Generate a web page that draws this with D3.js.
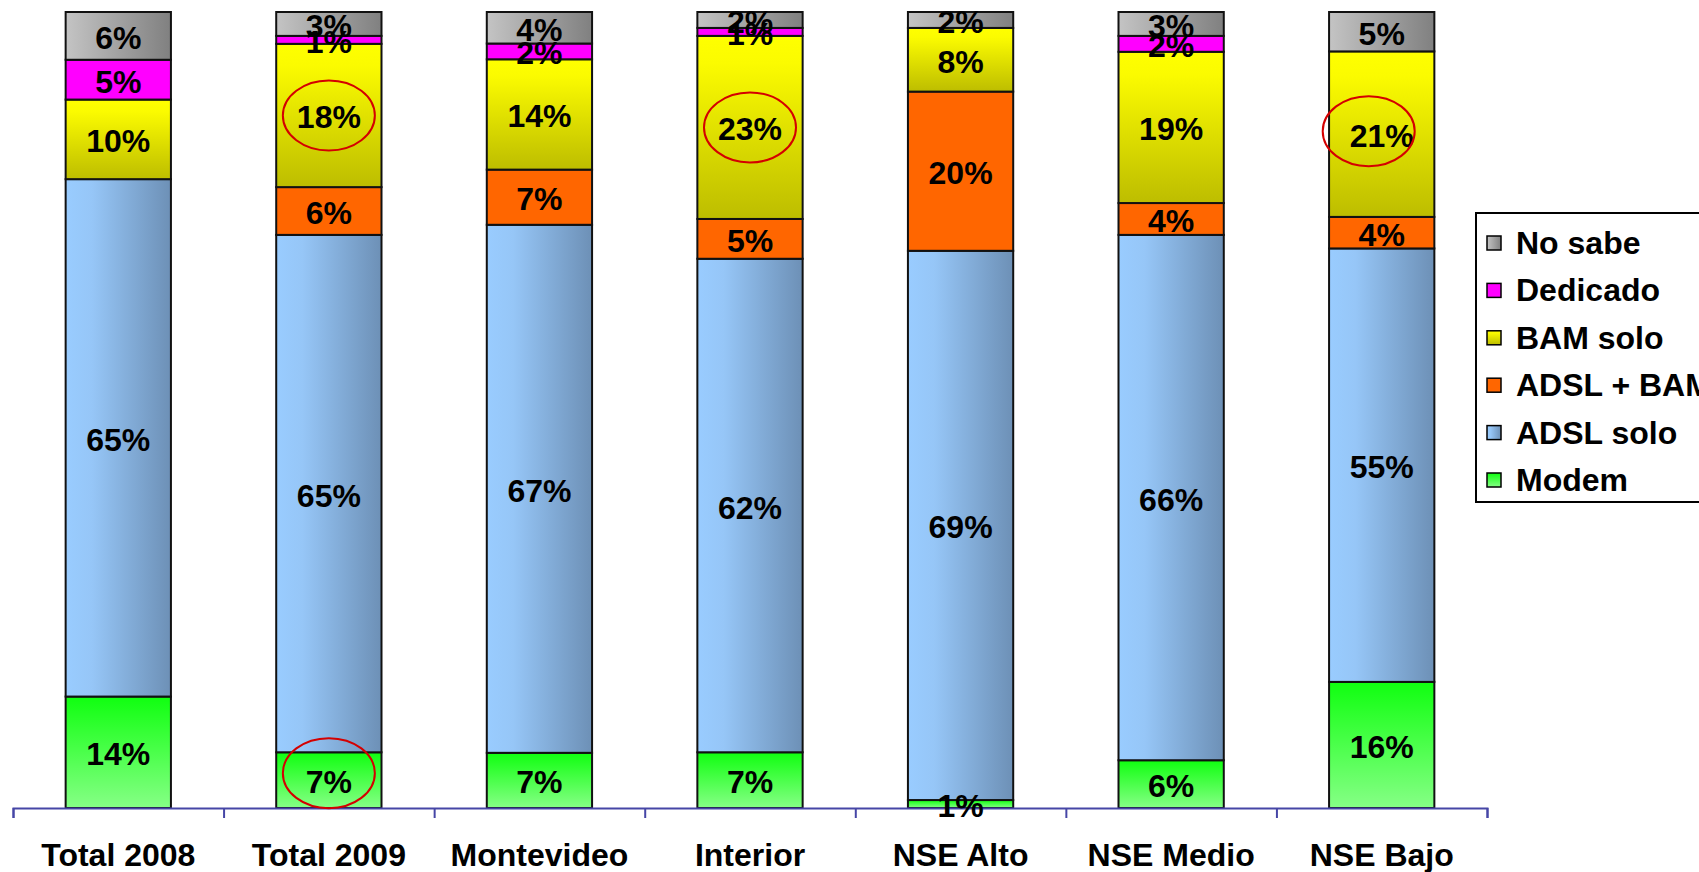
<!DOCTYPE html>
<html>
<head>
<meta charset="utf-8">
<script src="https://cdn.jsdelivr.net/npm/d3@7"></script>
<style>
  html, body { margin: 0; padding: 0; background: #fff; overflow: hidden; }
  svg { display: block; font-family: "Liberation Sans", Arial, sans-serif; }
</style>
</head>
<body>
<svg id="chart" width="1699" height="872"></svg>
<script>
// Categories along the x axis
const categories = ["Total 2008", "Total 2009", "Montevideo", "Interior", "NSE Alto", "NSE Medio", "NSE Bajo"];

// Series, stacked bottom to top (percent of households)
const modem     = [14, 7, 7, 7, 1, 6, 16];
const adslSolo  = [65, 65, 67, 62, 69, 66, 55];
const adslBam   = [0, 6, 7, 5, 20, 4, 4];
const bamSolo   = [10, 18, 14, 23, 8, 19, 21];
const dedicado  = [5, 1, 2, 1, 0, 2, 0];
const noSabe    = [6, 3, 4, 2, 2, 3, 5];

const seriesNames = ["Modem", "ADSL solo", "ADSL + BAM", "BAM solo", "Dedicado", "No sabe"];
const seriesValues = [modem, adslSolo, adslBam, bamSolo, dedicado, noSabe];

// Highlighted labels (circled in red)
const highlights = [
  { category: "Total 2009", series: "BAM solo" },
  { category: "Total 2009", series: "Modem" },
  { category: "Interior",   series: "BAM solo" },
  { category: "NSE Bajo",   series: "BAM solo" }
];

const svg = d3.select("#chart");

const margin = { left: 13, right: 212, top: 12, bottom: 64 };
const W = 1699, H = 872;
const plotLeft = margin.left, plotRight = W - margin.right;
const plotTop = margin.top, plotBottom = H - margin.bottom;

// Gradients for each series
const defs = svg.append("defs");
function linGrad(id, horizontal, stops) {
  const g = defs.append("linearGradient").attr("id", id)
    .attr("x1", 0).attr("y1", 0)
    .attr("x2", horizontal ? 1 : 0).attr("y2", horizontal ? 0 : 1);
  stops.forEach(([o, c]) => g.append("stop").attr("offset", o).attr("stop-color", c));
}
linGrad("g-modem", false, [[0, "#10ff10"], [1, "#86ff86"]]);
linGrad("g-adsl", true, [[0, "#99ccff"], [0.25, "#96c6f7"], [1, "#6d90b6"]]);
linGrad("g-bam", false, [[0, "#ffff00"], [0.15, "#fbfb00"], [1, "#bdbd00"]]);
linGrad("g-nosabe", true, [[0, "#c4c4c4"], [1, "#808080"]]);

const fills = {
  "Modem": "url(#g-modem)",
  "ADSL solo": "url(#g-adsl)",
  "ADSL + BAM": "#ff6600",
  "BAM solo": "url(#g-bam)",
  "Dedicado": "#ff00ff",
  "No sabe": "url(#g-nosabe)"
};

// Table for the stack layout
const table = categories.map((c, i) => {
  const row = { category: c };
  seriesNames.forEach((s, k) => { row[s] = seriesValues[k][i]; });
  return row;
});

const stack = d3.stack().keys(seriesNames).offset(d3.stackOffsetExpand);
const stacked = stack(table);

const x = d3.scaleBand().domain(categories).range([plotLeft, plotRight])
  .paddingInner(0.5).paddingOuter(0.25);
const y = d3.scaleLinear().domain([0, 1]).range([plotBottom, plotTop]);

// Bars
const layers = svg.append("g").selectAll("g.layer").data(stacked).join("g")
  .attr("class", "layer")
  .attr("fill", d => fills[d.key]);

layers.selectAll("rect").data(d => d.map(p => ({ key: d.key, p })))
  .join("rect")
  .filter(d => d.p[1] - d.p[0] > 0)
  .attr("x", d => x(d.p.data.category))
  .attr("width", x.bandwidth())
  .attr("y", d => y(d.p[1]))
  .attr("height", d => y(d.p[0]) - y(d.p[1]))
  .attr("stroke", "#111")
  .attr("stroke-width", 2);

// Axis with boundary ticks
const boundary = d3.scaleLinear().domain([0, categories.length]).range([plotLeft, plotRight]);
const axisG = svg.append("g").attr("transform", `translate(0,${plotBottom})`)
  .call(d3.axisBottom(boundary).tickValues(d3.range(categories.length + 1))
    .tickSize(10).tickSizeOuter(10).tickFormat(""));
axisG.selectAll("path, line").attr("stroke", "#4646a6").attr("stroke-width", 2);

const labelAxis = svg.append("g").attr("transform", `translate(0,${plotBottom})`)
  .call(d3.axisBottom(x).tickSize(0).tickPadding(0));
labelAxis.select(".domain").remove();
labelAxis.selectAll("text")
  .attr("y", 58).attr("dy", 0)
  .attr("fill", "#000")
  .style("font-size", "32px").style("font-weight", "bold")
  .style("font-family", "'Liberation Sans', Arial, sans-serif");

// Value labels
const labelG = svg.append("g");
stacked.forEach(layer => {
  layer.forEach((p, i) => {
    const v = seriesValues[seriesNames.indexOf(layer.key)][i];
    if (v <= 0) return;
    labelG.append("text")
      .attr("x", x(p.data.category) + x.bandwidth() / 2)
      .attr("y", y((p[0] + p[1]) / 2) + 2)
      .attr("text-anchor", "middle")
      .attr("dominant-baseline", "central")
      .attr("fill", "#000")
      .style("font-size", "32px").style("font-weight", "bold")
      .text(v + "%");
  });
});

// Red ellipses around highlighted labels
const ellipseOffsets = { "Modem": -7, "BAM solo": 0 };
highlights.forEach(h => {
  const layer = stacked.find(l => l.key === h.series);
  const i = categories.indexOf(h.category);
  const p = layer[i];
  const cx = x(h.category) + x.bandwidth() / 2 - (h.category === "NSE Bajo" ? 13 : 0);
  const cy = y((p[0] + p[1]) / 2) + ellipseOffsets[h.series] - (h.category === "NSE Bajo" ? 3 : 0);
  svg.append("ellipse")
    .attr("cx", cx).attr("cy", cy)
    .attr("rx", 46).attr("ry", 35)
    .attr("fill", "none").attr("stroke", "#d40000").attr("stroke-width", 2);
});

// Legend
const legend = svg.append("g").attr("transform", "translate(1476,213)");
legend.append("rect").attr("x", 0).attr("y", 0).attr("width", 260).attr("height", 289)
  .attr("fill", "#fff").attr("stroke", "#000").attr("stroke-width", 2);
const legendOrder = seriesNames.slice().reverse();
const legendRows = legend.selectAll("g.row").data(legendOrder).join("g")
  .attr("class", "row")
  .attr("transform", (d, i) => `translate(0,${30 + i * 47.4})`);
legendRows.append("rect")
  .attr("x", 11).attr("y", -7).attr("width", 14).attr("height", 14)
  .attr("fill", d => fills[d]).attr("stroke", "#000").attr("stroke-width", 1.5);
legendRows.append("text")
  .attr("x", 40).attr("y", 0)
  .attr("dominant-baseline", "central")
  .attr("fill", "#000")
  .style("font-size", "32px").style("font-weight", "bold")
  .text(d => d);
</script>
</body>
</html>
